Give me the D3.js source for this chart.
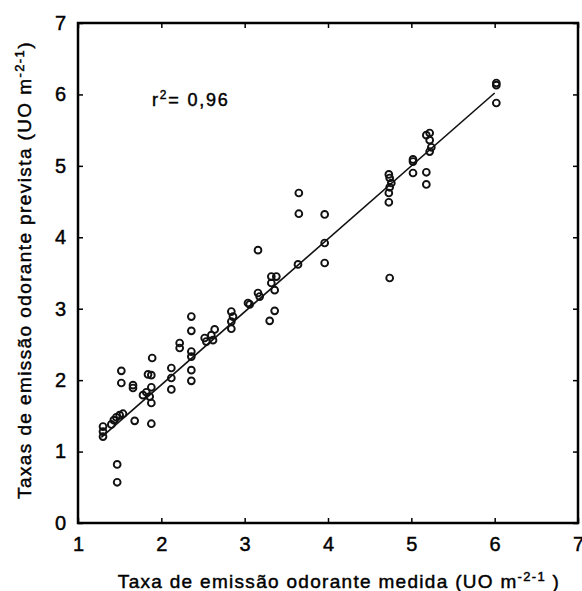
<!DOCTYPE html>
<html>
<head>
<meta charset="utf-8">
<script src="https://cdn.jsdelivr.net/npm/d3@7"></script>
<style>
  body { margin: 0; background: #fff; }
  svg { display: block; }
  text { font-family: "Liberation Sans", Arial, sans-serif; fill: #000; stroke: #000; stroke-width: 0.45px; }
</style>
</head>
<body>
<svg id="chart" width="582" height="591"></svg>
<script>
// ---- data ----
const measured = [1.30,1.30,1.30,1.40,1.43,1.46,1.50,1.54,1.47,1.47,
  1.52,1.52,1.66,1.66,1.68,1.88,
  1.78,1.82,1.86,1.88,1.84,1.88,1.89,1.88,
  2.12,2.12,2.12,
  2.22,2.22,2.36,2.36,2.36,2.36,2.36,2.36,
  2.52,2.54,2.60,2.62,2.64,
  2.84,2.86,2.84,2.84,
  3.04,3.06,3.16,3.18,3.32,3.38,3.32,3.36,3.36,3.30,3.16,
  3.65,3.65,3.96,3.96,3.64,3.96,
  4.73,4.74,4.76,4.74,4.73,4.73,4.74,
  5.02,5.02,5.02,5.18,5.18,5.22,5.24,5.18,5.22,5.22,
  6.02,6.02,6.02];
const predicted = [1.35,1.28,1.21,1.38,1.44,1.48,1.51,1.53,0.82,0.57,
  2.13,1.96,1.93,1.89,1.43,1.39,
  1.79,1.83,1.77,1.68,2.08,2.07,2.31,1.90,
  2.17,2.03,1.87,
  2.52,2.45,2.89,2.69,2.40,2.33,2.14,1.99,
  2.59,2.54,2.63,2.56,2.71,
  2.96,2.89,2.82,2.72,
  3.08,3.06,3.22,3.17,3.45,3.45,3.36,3.26,2.97,2.83,3.82,
  4.62,4.33,4.32,3.92,3.62,3.64,
  4.88,4.83,4.76,4.70,4.62,4.49,3.43,
  5.09,5.06,4.90,4.91,4.74,5.20,5.26,5.43,5.46,5.36,
  6.16,6.13,5.88];
const fitX = [1.28, 6.0];
const fitY = [1.20, 6.02];
const xTicks = [1,2,3,4,5,6,7];
const yTicks = [0,1,2,3,4,5,6,7];
const r2Label = "0,96";

// ---- layout ----
const svg = d3.select("#chart");
const L = 78, R = 578, T = 23, B = 523;
const x = d3.scaleLinear().domain([1,7]).range([L,R]);
const y = d3.scaleLinear().domain([0,7]).range([B,T]);

const tickLen = 5;
const gB = svg.append("g").attr("transform", `translate(0,${B})`)
  .call(d3.axisBottom(x).tickValues(xTicks).tickSizeInner(-tickLen).tickSizeOuter(0).tickPadding(14).tickFormat(d3.format("d")));
const gL = svg.append("g").attr("transform", `translate(${L},0)`)
  .call(d3.axisLeft(y).tickValues(yTicks).tickSizeInner(-tickLen).tickSizeOuter(0).tickPadding(12).tickFormat(d3.format("d")));
const gT = svg.append("g").attr("transform", `translate(0,${T})`)
  .call(d3.axisTop(x).tickValues(xTicks).tickSizeInner(-tickLen).tickSizeOuter(0).tickFormat(""));
const gR = svg.append("g").attr("transform", `translate(${R},0)`)
  .call(d3.axisRight(y).tickValues(yTicks).tickSizeInner(-tickLen).tickSizeOuter(0).tickFormat(""));
[gB,gL,gT,gR].forEach(g => {
  g.select(".domain").remove();
  g.selectAll(".tick line").attr("stroke","#000").attr("stroke-width",1.5);
  g.selectAll(".tick text").attr("font-size",20).attr("fill","#000")
    .style("font-family",'"Liberation Sans", Arial, sans-serif');
});

// frame
svg.append("rect").attr("x",L).attr("y",T).attr("width",R-L).attr("height",B-T)
  .attr("fill","none").attr("stroke","#000").attr("stroke-width",2.5);

// regression line
svg.append("line")
  .attr("x1",x(fitX[0])).attr("y1",y(fitY[0]))
  .attr("x2",x(fitX[1])).attr("y2",y(fitY[1]))
  .attr("stroke","#111").attr("stroke-width",1.6);

// points
const pts = measured.map((m,i) => ({m, p: predicted[i]}));
svg.append("g").selectAll("circle").data(pts).join("circle")
  .attr("cx", d => x(d.m)).attr("cy", d => y(d.p)).attr("r", 3.4)
  .attr("fill","none").attr("stroke","#111").attr("stroke-width",1.9);

// r² annotation
const r2 = svg.append("text").attr("x",152).attr("y",106).attr("font-size",18)
  .attr("letter-spacing",1.8);
r2.append("tspan").text("r");
r2.append("tspan").attr("font-size",12).attr("dy",-7).text("2");
r2.append("tspan").attr("dy",7).text("= " + r2Label);

// x title
const xt = svg.append("text").attr("x",339).attr("y",588)
  .attr("text-anchor","middle").attr("font-size",19).attr("letter-spacing",1.3);
xt.append("tspan").text("Taxa de emissão odorante medida (UO m");
xt.append("tspan").attr("font-size",13).attr("dy",-7).text("-2-1");
xt.append("tspan").attr("dy",7).text(" )");

// y title
const yt = svg.append("text")
  .attr("transform",`translate(31,270) rotate(-90)`)
  .attr("text-anchor","middle").attr("font-size",19).attr("letter-spacing",1.4);
yt.append("tspan").text("Taxas de emissão odorante prevista (UO m");
yt.append("tspan").attr("font-size",13).attr("dy",-7).text("-2-1");
yt.append("tspan").attr("dy",7).text(")");
</script>
</body>
</html>
